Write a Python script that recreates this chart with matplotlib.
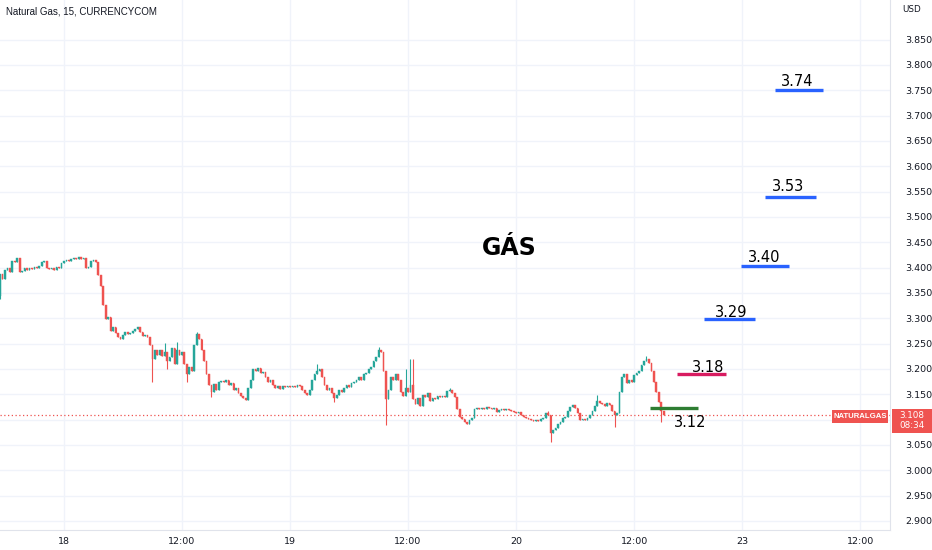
import matplotlib
matplotlib.use('Agg')
import matplotlib.pyplot as plt
from matplotlib.patches import Rectangle

# 15 min closes (index 0 = first visible candle)
first_open = 3.343
closes = [
    3.387, 3.377, 3.396, 3.400, 3.392, 3.412, 3.410, 3.418, 3.392, 3.394,
    3.400, 3.396, 3.400, 3.398, 3.402, 3.400, 3.404, 3.410, 3.412, 3.400,
    3.398, 3.400, 3.396, 3.402, 3.400, 3.408, 3.412, 3.414, 3.413, 3.416,
    3.418, 3.416, 3.420, 3.416, 3.418, 3.400, 3.402, 3.412, 3.414, 3.410,
    3.385, 3.363, 3.327, 3.298, 3.302, 3.274, 3.282, 3.270, 3.262, 3.258,
    3.266, 3.272, 3.268, 3.270, 3.274, 3.278, 3.282, 3.272, 3.264, 3.266,
    3.262, 3.248, 3.219, 3.238, 3.228, 3.238, 3.225, 3.234, 3.215, 3.223,
    3.242, 3.209, 3.238, 3.228, 3.234, 3.209, 3.189, 3.203, 3.195, 3.248,
    3.268, 3.258, 3.238, 3.215, 3.189, 3.169, 3.155, 3.171, 3.159, 3.175,
    3.177, 3.175, 3.179, 3.169, 3.173, 3.159, 3.163, 3.153, 3.147, 3.143,
    3.138, 3.163, 3.179, 3.199, 3.195, 3.201, 3.191, 3.193, 3.183, 3.175,
    3.179, 3.169, 3.163, 3.167, 3.161, 3.167, 3.165, 3.167, 3.165, 3.167,
    3.165, 3.169, 3.167, 3.159, 3.153, 3.149, 3.159, 3.179, 3.189, 3.195,
    3.199, 3.183, 3.169, 3.159, 3.163, 3.153, 3.143, 3.149, 3.159, 3.155,
    3.163, 3.169, 3.165, 3.173, 3.175, 3.179, 3.183, 3.179, 3.189, 3.191,
    3.199, 3.203, 3.215, 3.223, 3.238, 3.234, 3.195, 3.140, 3.159, 3.183,
    3.179, 3.189, 3.179, 3.155, 3.147, 3.163, 3.155, 3.169, 3.140, 3.130,
    3.143, 3.126, 3.149, 3.145, 3.153, 3.136, 3.143, 3.140, 3.147, 3.145,
    3.147, 3.145, 3.157, 3.159, 3.153, 3.145, 3.120, 3.106, 3.102, 3.096,
    3.092, 3.100, 3.104, 3.120, 3.122, 3.120, 3.122, 3.120, 3.124, 3.122,
    3.120, 3.122, 3.114, 3.118, 3.120, 3.118, 3.120, 3.118, 3.117, 3.114,
    3.112, 3.114, 3.108, 3.106, 3.104, 3.102, 3.100, 3.098, 3.100, 3.098,
    3.102, 3.104, 3.112, 3.108, 3.074, 3.080, 3.084, 3.092, 3.096, 3.104,
    3.106, 3.116, 3.124, 3.128, 3.122, 3.112, 3.100, 3.102, 3.100, 3.104,
    3.108, 3.116, 3.126, 3.136, 3.132, 3.130, 3.126, 3.132, 3.128, 3.116,
    3.108, 3.112, 3.155, 3.183, 3.189, 3.173, 3.179, 3.175, 3.187, 3.191,
    3.195, 3.207, 3.215, 3.219, 3.211, 3.195, 3.175, 3.155, 3.134, 3.116,
    3.108,
]
# long wicks that stick out of the bodies
wick_high = {67: 3.252, 72: 3.254, 80: 3.272, 129: 3.209, 154: 3.244, 165: 3.199,
             167: 3.219, 168: 3.219, 183: 3.163, 223: 3.116, 243: 3.149, 263: 3.226}
wick_low = {0: 3.338, 62: 3.175, 68: 3.199, 76: 3.175, 86: 3.145, 136: 3.134,
            157: 3.090, 224: 3.055, 250: 3.086, 269: 3.096}

tick_pos = [26, 74, 118, 166, 210, 258, 302, 350]
tick_labels = ['18', '12:00', '19', '12:00', '20', '12:00', '23', '12:00']

# target levels: label, price, start/end candle
target_labels = ['3.74', '3.53', '3.40', '3.29', '3.18', '3.12']
target_prices = [3.750, 3.539, 3.404, 3.298, 3.189, 3.122]
target_start = [315.3, 311.2, 301.5, 286.4, 275.4, 264.4]
target_end = [334.8, 332.0, 321.0, 307.2, 295.4, 284.0]
target_colors = ['#2962ff', '#2962ff', '#2962ff', '#2962ff', '#d81b60', '#2e7d32']
# where the label text sits (candle index, price)
label_x = [324.2, 320.6, 310.8, 297.4, 288.0, 280.7]
label_y = [3.767, 3.559, 3.419, 3.312, 3.203, 3.094]

last_price = 3.108

UP = '#26a69a'
DOWN = '#ef5350'
TXT = '#131722'
PX = 2.458  # pixels per candle

fig = plt.figure(figsize=(9.32, 5.5), dpi=100)
ax = fig.add_axes([0, 20 / 550, 890 / 932, 530 / 550])

ax.set_xlim(0, 890 / PX)
ax.set_ylim(2.882, 3.928)

prices = [2.900 + 0.05 * k for k in range(20)]
for p in prices:
    ax.axhline(p, color='#f0f3fa', lw=1, zorder=0)
for t in tick_pos:
    ax.axvline(t, color='#f0f3fa', lw=1, zorder=0)

opens = [first_open] + closes[:-1]
for i, (o, c) in enumerate(zip(opens, closes)):
    col = UP if c >= o else DOWN
    hi = wick_high.get(i, max(o, c))
    lo = wick_low.get(i, min(o, c))
    ax.vlines(i, lo, hi, color=col, lw=0.8, zorder=2)
    h = abs(c - o)
    if h < 0.0012:
        h = 0.0012
    ax.add_patch(Rectangle((i - 0.35, min(o, c)), 0.7, h, facecolor=col,
                           edgecolor=col, lw=0.3, zorder=3))

ax.axhline(last_price, color=DOWN, lw=0.9, ls=(0, (1, 2)), zorder=1)

for lab, p, s, e, col, lx, ly in zip(target_labels, target_prices, target_start,
                                     target_end, target_colors, label_x, label_y):
    ax.hlines(p, s, e, color=col, lw=2.4, zorder=4)
    ax.text(lx, ly, lab, ha='center', va='center', fontsize=10.5,
            color='black', zorder=5)

ax.text(509 / PX, 3.438, 'GÁS', ha='center', va='center', fontsize=17,
        fontweight='bold', color='black')

ax.set_xticks(tick_pos)
ax.set_xticklabels(tick_labels)
ax.set_yticks(prices)
# 3.100 sits under the last price box
ax.set_yticklabels(['' if abs(p - 3.1) < 0.001 else '%.3f' % p for p in prices])
ax.yaxis.tick_right()
ax.tick_params(axis='y', length=0, pad=11, labelsize=6.8, labelcolor=TXT)
ax.tick_params(axis='x', length=0, pad=5, labelsize=6.8, labelcolor=TXT)
for side in ['top', 'left']:
    ax.spines[side].set_visible(False)
ax.spines['right'].set_color('#e0e3eb')
ax.spines['bottom'].set_color('#e0e3eb')

fig.text(6 / 932, 1 - 11 / 550, 'Natural Gas, 15, CURRENCYCOM', fontsize=7,
         family='Liberation Sans', color=TXT, va='center', ha='left')
fig.text(902 / 932, 1 - 10 / 550, 'USD', fontsize=6.3, color=TXT, va='center')

# last price labels on the right
fig.patches.append(Rectangle((832 / 932, 1 - 423 / 550), 56 / 932, 13 / 550,
                             transform=fig.transFigure, facecolor=DOWN, edgecolor='none'))
fig.text(860 / 932, 1 - 416.5 / 550, 'NATURALGAS', fontsize=5.6, color='white',
         family='Liberation Sans', ha='center', va='center', fontweight='bold')
fig.patches.append(Rectangle((892 / 932, 1 - 433 / 550), 40 / 932, 24 / 550,
                             transform=fig.transFigure, facecolor=DOWN, edgecolor='none'))
fig.text(912 / 932, 1 - 420.5 / 550, '%.3f\n08:34' % last_price, fontsize=6.3,
         color='white', ha='center', va='center', linespacing=1.25)

fig.savefig('out.png', dpi=100)
